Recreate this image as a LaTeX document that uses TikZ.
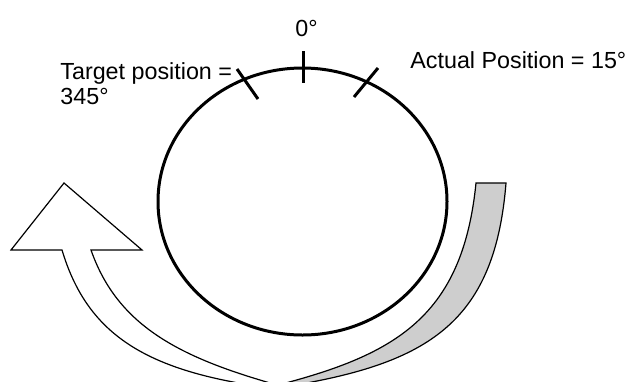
\documentclass[tikz,border=0pt]{standalone}
\usepackage{fontspec}
\setmainfont{Liberation Sans}
\usepackage{tikz}
\definecolor{bandgray}{RGB}{206, 206, 206}

\begin{document}
\begin{tikzpicture}[x=0.5pt, y=-0.5pt,
		dial/.style={line width=1.5pt},
		arrowline/.style={line width=0.6pt, line join=miter},
		label/.style={font=\fontsize{11.65}{13}\selectfont, inner sep=0pt, anchor=base west}]
		\useasboundingbox (0,0) rectangle (632,381);
		\clip (0,0) rectangle (632,381);

		% grey back strip of the curved arrow
		\filldraw[arrowline, fill=bandgray] (476,183) -- (506,183)
			.. controls (495.6,313) and (437,357) .. (317,381) -- (262,392)
			-- (250,393) -- (293,381)
			.. controls (401,351.1) and (463.2,311) .. (476,183) -- cycle;

		% white front of the curved arrow
		\filldraw[arrowline, fill=white] (64,183) -- (142,250) -- (91,250)
			.. controls (115.5,320) and (170,353) .. (260,380) -- (320,398)
			-- (300,395.4) -- (228,381)
			.. controls (133,362) and (84.5,325) .. (62,250)
			-- (11,250) -- cycle;

		% dial
		\draw[dial] (302.5,201.5) ellipse [x radius=144.5, y radius=133.5];
		\draw[dial] (303,51) -- (303,83);
		\draw[dial] (237,69) -- (258,99);
		\draw[dial] (378,68) -- (354,97);

		\node[label] (zero) at (295,36) {0°};
		\node[label] (actual) at (410,68) {Actual Position = 15°};
		\node[label] (target) at (60,79) {Target position =};
		\node[label] (targetdeg) at (60,104) {345°};
	\end{tikzpicture}
\end{document}
